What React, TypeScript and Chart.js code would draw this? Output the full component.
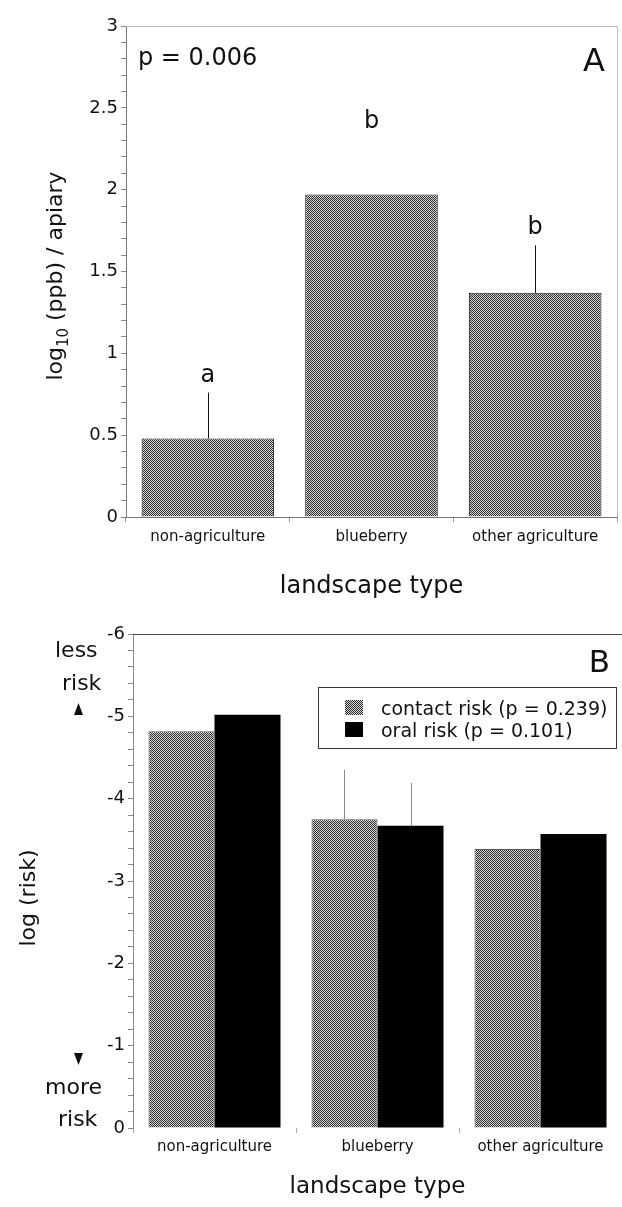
import React, { useEffect, useRef } from 'react';
import { Chart, registerables } from 'chart.js';
Chart.register(...registerables);

const FONT = 'DejaVu Sans';

// Panel A data
const categories = ['non-agriculture', 'blueberry', 'other agriculture'];
const residueMeans = [0.48, 1.97, 1.37];
const residueErrorTops = [0.76, null, 1.66];
const sigLetters = ['a', 'b', 'b'];
const sigLetterAnchors = [0.76, 2.31, 1.66];
const residuePValue = 'p = 0.006';

// Panel B data
const contactRisk = [-4.82, -3.75, -3.39];
const oralRisk = [-5.02, -3.67, -3.57];
const contactErrorTops = [null, -4.35, null];
const oralErrorTops = [null, -4.19, null];
const seriesLabels = ['contact risk (p = 0.239)', 'oral risk (p = 0.101)'];

function makePattern(): CanvasPattern | string {
  const c = document.createElement('canvas');
  c.width = 2;
  c.height = 2;
  const g = c.getContext('2d');
  if (!g) return '#808080';
  g.fillStyle = '#d4d4d4';
  g.fillRect(0, 0, 2, 2);
  g.fillStyle = '#2e2e2e';
  g.fillRect(0, 0, 1, 1);
  g.fillRect(1, 1, 1, 1);
  return g.createPattern(c, 'repeat') || '#808080';
}

const errorBarPlugin = {
  id: 'errorBars',
  afterDatasetsDraw(chart: any) {
    const ctx = chart.ctx;
    const y = chart.scales.y;
    chart.data.datasets.forEach((ds: any, di: number) => {
      const tops = ds.errorTops;
      if (!tops) return;
      const meta = chart.getDatasetMeta(di);
      meta.data.forEach((bar: any, i: number) => {
        const t = tops[i];
        if (t == null) return;
        const x = Math.round(bar.x) + 0.5;
        ctx.save();
        ctx.strokeStyle = ds.errorColor || '#000';
        ctx.lineWidth = 1;
        ctx.beginPath();
        ctx.moveTo(x, bar.y);
        ctx.lineTo(x, y.getPixelForValue(t));
        ctx.stroke();
        ctx.restore();
      });
    });
  },
};

const panelAPlugin = {
  id: 'panelA',
  afterDraw(chart: any) {
    const ctx = chart.ctx;
    const { left, right, top, bottom } = chart.chartArea;
    const y = chart.scales.y;
    ctx.save();
    // light frame top / right
    ctx.strokeStyle = '#bdbdbd';
    ctx.lineWidth = 1;
    ctx.beginPath();
    ctx.moveTo(left, Math.round(top) + 0.5);
    ctx.lineTo(Math.round(right) + 0.5, Math.round(top) + 0.5);
    ctx.lineTo(Math.round(right) + 0.5, bottom);
    ctx.stroke();

    ctx.fillStyle = '#111';
    ctx.textBaseline = 'alphabetic';
    ctx.textAlign = 'left';
    ctx.font = `24px "${FONT}"`;
    ctx.fillText(residuePValue, 138, 65);
    ctx.font = `32px "${FONT}"`;
    ctx.textAlign = 'right';
    ctx.fillText('A', 605, 71);

    // significance letters
    const meta = chart.getDatasetMeta(0);
    ctx.font = `24px "${FONT}"`;
    ctx.textAlign = 'center';
    meta.data.forEach((bar: any, i: number) => {
      ctx.fillText(sigLetters[i], bar.x, y.getPixelForValue(sigLetterAnchors[i]) - 11);
    });

    // x title
    ctx.font = `24px "${FONT}"`;
    ctx.textAlign = 'center';
    ctx.fillText('landscape type', (left + right) / 2, 593);

    // y title with subscript
    ctx.translate(62, 276);
    ctx.rotate(-Math.PI / 2);
    ctx.textAlign = 'left';
    const main = `22px "${FONT}"`;
    const sub = `15px "${FONT}"`;
    ctx.font = main;
    const w1 = ctx.measureText('log').width;
    const w3 = ctx.measureText(' (ppb) / apiary').width;
    ctx.font = sub;
    const w2 = ctx.measureText('10').width;
    let x0 = -(w1 + w2 + w3) / 2;
    ctx.font = main;
    ctx.fillText('log', x0, 0);
    x0 += w1;
    ctx.font = sub;
    ctx.fillText('10', x0, 6);
    x0 += w2;
    ctx.font = main;
    ctx.fillText(' (ppb) / apiary', x0, 0);
    ctx.restore();
  },
};

const panelBPlugin = {
  id: 'panelB',
  afterDraw(chart: any) {
    const ctx = chart.ctx;
    const { left, right, top } = chart.chartArea;
    ctx.save();
    ctx.strokeStyle = '#444';
    ctx.lineWidth = 1;
    ctx.beginPath();
    ctx.moveTo(left, Math.round(top) + 0.5);
    ctx.lineTo(right, Math.round(top) + 0.5);
    ctx.stroke();

    ctx.fillStyle = '#111';
    ctx.textBaseline = 'alphabetic';
    ctx.font = `31px "${FONT}"`;
    ctx.textAlign = 'right';
    ctx.fillText('B', 610, 72);

    // legend
    ctx.fillStyle = '#fff';
    ctx.fillRect(318, 87, 298, 61);
    ctx.strokeStyle = '#333';
    ctx.strokeRect(318.5, 87.5, 298, 61);
    const ds = chart.data.datasets;
    ctx.font = `19px "${FONT}"`;
    ctx.textAlign = 'left';
    ds.forEach((d: any, i: number) => {
      const sy = 100 + i * 22;
      ctx.fillStyle = d.backgroundColor;
      ctx.fillRect(345, sy, 18, 15);
      ctx.fillStyle = '#111';
      ctx.fillText(d.label, 381, 115 + i * 22);
    });

    // risk direction annotations
    ctx.font = `22px "${FONT}"`;
    ctx.fillStyle = '#111';
    ctx.fillText('less', 55, 57);
    ctx.fillText('risk', 62, 90);
    ctx.fillText('more', 45, 494);
    ctx.fillText('risk', 58, 526);
    ctx.beginPath();
    ctx.moveTo(78.5, 103);
    ctx.lineTo(83, 115);
    ctx.lineTo(74, 115);
    ctx.closePath();
    ctx.fill();
    ctx.beginPath();
    ctx.moveTo(74, 453);
    ctx.lineTo(83, 453);
    ctx.lineTo(78.5, 465);
    ctx.closePath();
    ctx.fill();

    // x title
    ctx.font = `23px "${FONT}"`;
    ctx.textAlign = 'center';
    ctx.fillText('landscape type', (left + right) / 2, 593);

    // y title
    ctx.translate(35, 298);
    ctx.rotate(-Math.PI / 2);
    ctx.font = `22px "${FONT}"`;
    ctx.fillText('log (risk)', 0, 0);
    ctx.restore();
  },
};

export default function App() {
  const refA = useRef<HTMLCanvasElement | null>(null);
  const refB = useRef<HTMLCanvasElement | null>(null);

  useEffect(() => {
    if (!refA.current || !refB.current) return;
    const pattern = makePattern();
    const tickFont = { family: FONT, size: 18 };
    const catFont = { family: FONT, size: 15 };

    const chartA = new Chart(refA.current, {
      type: 'bar',
      data: {
        labels: categories,
        datasets: [
          {
            label: 'residue',
            data: residueMeans,
            backgroundColor: pattern as any,
            borderColor: '#1a1a1a',
            borderWidth: 1,
            barPercentage: 0.81,
            categoryPercentage: 1,
            errorTops: residueErrorTops,
            errorColor: '#111',
          } as any,
        ],
      },
      options: {
        animation: false,
        responsive: false,
        devicePixelRatio: 1,
        layout: { padding: { top: 26, right: 5, left: 0, bottom: 0 } },
        plugins: { legend: { display: false }, tooltip: { enabled: false } },
        scales: {
          x: {
            grid: { display: true, drawOnChartArea: false, drawTicks: true, tickLength: 5, color: '#999', offset: true },
            border: { display: true, color: '#777' },
            ticks: { font: catFont, color: '#111', padding: 6, maxRotation: 0, autoSkip: false },
            afterFit: (s: any) => { s.height = 83; },
          },
          y: {
            min: 0,
            max: 3,
            ticks: {
              stepSize: 0.1,
              autoSkip: false,
              font: tickFont,
              color: '#111',
              padding: 3,
              callback: (v: any) => {
                const n = Number(v);
                return Math.abs(n * 2 - Math.round(n * 2)) < 1e-6 ? String(Math.round(n * 2) / 2) : '';
              },
            },
            grid: { drawOnChartArea: false, drawTicks: true, tickLength: 5, color: '#888' },
            border: { display: true, color: '#777' },
            afterFit: (s: any) => { s.width = 126; },
          },
        },
      } as any,
      plugins: [errorBarPlugin, panelAPlugin],
    });

    const chartB = new Chart(refB.current, {
      type: 'bar',
      data: {
        labels: categories,
        datasets: [
          {
            label: seriesLabels[0],
            data: contactRisk,
            backgroundColor: pattern as any,
            borderColor: '#555',
            borderWidth: 1,
            barPercentage: 1,
            categoryPercentage: 0.81,
            errorTops: contactErrorTops,
            errorColor: '#888',
          } as any,
          {
            label: seriesLabels[1],
            data: oralRisk,
            backgroundColor: '#000',
            borderColor: '#000',
            borderWidth: 0,
            barPercentage: 1,
            categoryPercentage: 0.81,
            errorTops: oralErrorTops,
            errorColor: '#888',
          } as any,
        ],
      },
      options: {
        animation: false,
        responsive: false,
        devicePixelRatio: 1,
        layout: { padding: { top: 34, right: 0, left: 0, bottom: 0 } },
        plugins: { legend: { display: false }, tooltip: { enabled: false } },
        scales: {
          x: {
            grid: { display: true, drawOnChartArea: false, drawTicks: true, tickLength: 5, color: '#aaa', offset: true },
            border: { display: false },
            ticks: { font: catFont, color: '#111', padding: 5, maxRotation: 0, autoSkip: false },
            afterFit: (s: any) => { s.height = 79; },
          },
          y: {
            min: -6,
            max: 0,
            reverse: true,
            ticks: {
              stepSize: 0.2,
              autoSkip: false,
              font: tickFont,
              color: '#111',
              padding: 3,
              callback: (v: any) => {
                const n = Number(v);
                if (Math.abs(n - Math.round(n)) < 1e-6) {
                  const r = Math.round(n);
                  return r === 0 ? '0' : String(r);
                }
                return '';
              },
            },
            grid: { drawOnChartArea: false, drawTicks: true, tickLength: 5, color: '#888' },
            border: { display: true, color: '#888' },
            afterFit: (s: any) => { s.width = 133; },
          },
        },
      } as any,
      plugins: [errorBarPlugin, panelBPlugin],
    });

    return () => {
      chartA.destroy();
      chartB.destroy();
    };
  }, []);

  return (
    <div style={{ position: 'absolute', left: 0, top: 0, width: 622, height: 1207, background: '#fff' }}>
      <canvas ref={refA} width={622} height={600} style={{ display: 'block', width: 622, height: 600 }} />
      <canvas ref={refB} width={622} height={607} style={{ display: 'block', width: 622, height: 607 }} />
    </div>
  );
}
